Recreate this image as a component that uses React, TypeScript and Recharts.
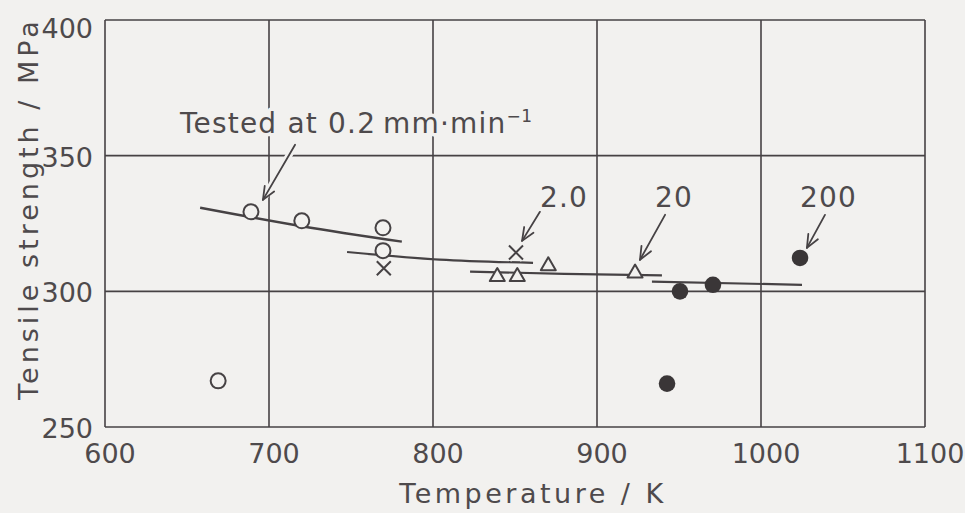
import React from "react";
import {
  ComposedChart,
  XAxis,
  YAxis,
  CartesianGrid,
  Line,
  Scatter,
  ReferenceLine,
  ReferenceDot,
} from "recharts";

const INK = "#464244";
const TEXT = "#4e4a4c";
const PAPER = "#f2f1ef";
const FONT = "'DejaVu Sans', sans-serif";

const xTicks = [600, 700, 800, 900, 1000, 1100];
const yTicks = [250, 300, 350, 400];

// measured points, temperature (K) vs tensile strength (MPa)
const rate02 = [
  { t: 669, s: 267 },
  { t: 689, s: 329.3 },
  { t: 720, s: 326 },
  { t: 769.5, s: 323.4 },
  { t: 769.5, s: 315 },
];
const rate2 = [
  { t: 770, s: 308.5 },
  { t: 850.6, s: 314.3 },
];
const rate20 = [
  { t: 839.2, s: 306 },
  { t: 851.4, s: 306 },
  { t: 870.3, s: 310 },
  { t: 923.2, s: 307.3 },
];
const rate200 = [
  { t: 942.7, s: 266 },
  { t: 950.6, s: 300 },
  { t: 970.7, s: 302.4 },
  { t: 1023.8, s: 312.3 },
];

// hand-drawn trend lines
const fit02 = [
  { t: 658, s: 330.8 },
  { t: 720, s: 324.0 },
  { t: 781, s: 318.3 },
];
const fit2 = [
  { t: 747.6, s: 314.5 },
  { t: 804, s: 311.7 },
  { t: 861, s: 310.5 },
];
const fit20 = [
  { t: 822.6, s: 307.3 },
  { t: 880, s: 306.4 },
  { t: 939.6, s: 305.9 },
];
const fit200 = [
  { t: 933.5, s: 303.6 },
  { t: 1025, s: 302.4 },
];

// rate labels with their arrows (data coords)
const notes = [
  { text: "Tested at 0.2\u2009mm·min", sup: "−1", at: [645.7, 358.4], from: [715.9, 354], to: [696.3, 333.7] },
  { text: "2.0", sup: "", at: [865.2, 331.1], from: [865.2, 329.3], to: [854.3, 318.6] },
  { text: "20", sup: "", at: [935.4, 331.1], from: [941.5, 328.2], to: [926.2, 311.6] },
  { text: "200", sup: "", at: [1023.8, 331.1], from: [1039, 328.2], to: [1028, 316] },
];

function OpenCircle(p: any) {
  return <circle cx={p.cx} cy={p.cy} r={7.5} fill={PAPER} stroke={INK} strokeWidth={2} />;
}

function Cross(p: any) {
  const d = 7;
  const { cx, cy } = p;
  const path = `M${cx - d},${cy - d}L${cx + d},${cy + d}M${cx + d},${cy - d}L${cx - d},${cy + d}`;
  return (
    <g>
      <path d={path} stroke={PAPER} strokeWidth={6} />
      <path d={path} stroke={INK} strokeWidth={2} />
    </g>
  );
}

function Triangle(p: any) {
  const { cx, cy } = p;
  const pts = `${cx},${cy - 7} ${cx - 7.5},${cy + 6} ${cx + 7.5},${cy + 6}`;
  return <polygon points={pts} fill={PAPER} stroke={INK} strokeWidth={2} strokeLinejoin="round" />;
}

function Dot(p: any) {
  return <circle cx={p.cx} cy={p.cy} r={8.3} fill="#3a3637" />;
}

function Arrow(p: any) {
  const { x1, y1, x2, y2 } = p;
  const ang = Math.atan2(y2 - y1, x2 - x1);
  const len = 14;
  const spread = 0.4;
  const hx1 = x2 - len * Math.cos(ang - spread);
  const hy1 = y2 - len * Math.sin(ang - spread);
  const hx2 = x2 - len * Math.cos(ang + spread);
  const hy2 = y2 - len * Math.sin(ang + spread);
  const head = `M${hx1},${hy1}L${x2},${y2}L${hx2},${hy2}`;
  return (
    <g fill="none" strokeLinecap="round" strokeLinejoin="round">
      <line x1={x1} y1={y1} x2={x2} y2={y2} stroke={PAPER} strokeWidth={7} />
      <line x1={x1} y1={y1} x2={x2} y2={y2} stroke={INK} strokeWidth={1.8} />
      <path d={head} stroke={INK} strokeWidth={1.8} />
    </g>
  );
}

function noteText(text: string, sup: string) {
  return (p: any) => (
    <text
      x={p.cx}
      y={p.cy}
      fontFamily={FONT}
      fontSize={28}
      letterSpacing={1.2}
      fill={TEXT}
      stroke={PAPER}
      strokeWidth={7}
      strokeLinejoin="round"
      paintOrder="stroke"
    >
      {text}
      {sup ? (
        <tspan dy={-11} fontSize={17} letterSpacing={0.5}>
          {sup}
        </tspan>
      ) : null}
    </text>
  );
}

function XTick(p: any) {
  return (
    <text x={p.x + 5} y={p.y + 36} textAnchor="middle" fontFamily={FONT} fontSize={27} fill={TEXT}>
      {p.payload.value}
    </text>
  );
}

function YTick(p: any) {
  const dy = p.payload.value === 400 ? 18 : 11;
  return (
    <text x={p.x} y={p.y + dy} textAnchor="end" fontFamily={FONT} fontSize={27} fill={TEXT}>
      {p.payload.value}
    </text>
  );
}

function XTitle(p: any) {
  const vb = p.viewBox;
  return (
    <text
      x={vb.x + vb.width / 2 + 18}
      y={vb.y + 76}
      textAnchor="middle"
      fontFamily={FONT}
      fontSize={27}
      letterSpacing={3.5}
      fill={TEXT}
    >
      Temperature / K
    </text>
  );
}

function YTitle(p: any) {
  const vb = p.viewBox;
  const cx = 38;
  const cy = vb.y + vb.height / 2 - 15;
  return (
    <text
      x={cx}
      y={cy}
      transform={`rotate(-90 ${cx} ${cy})`}
      textAnchor="middle"
      fontFamily={FONT}
      fontSize={27}
      letterSpacing={4}
      fill={TEXT}
    >
      Tensile strength / MPa
    </text>
  );
}

export default function App() {
  return (
    <div style={{ position: "absolute", left: 0, top: 0, width: 965, height: 513, background: PAPER }}>
      <ComposedChart width={965} height={513} margin={{ top: 20, right: 40, left: 0, bottom: 0 }}>
        <CartesianGrid stroke={INK} strokeWidth={1.6} />
        <XAxis
          type="number"
          dataKey="t"
          domain={[600, 1100]}
          ticks={xTicks}
          interval={0}
          height={86}
          axisLine={false}
          tickLine={false}
          tickSize={0}
          tickMargin={0}
          tick={<XTick />}
          label={XTitle}
        />
        <YAxis
          type="number"
          dataKey="s"
          domain={[250, 400]}
          ticks={yTicks}
          interval={0}
          width={105}
          axisLine={false}
          tickLine={false}
          tickSize={0}
          tickMargin={12}
          tick={<YTick />}
          label={YTitle}
        />
        {notes.map((n, i) => (
          <ReferenceLine
            key={`arrow-${i}`}
            segment={[
              { x: n.from[0], y: n.from[1] },
              { x: n.to[0], y: n.to[1] },
            ]}
            shape={Arrow}
          />
        ))}
        {notes.map((n, i) => (
          <ReferenceDot key={`note-${i}`} x={n.at[0]} y={n.at[1]} r={0} shape={noteText(n.text, n.sup)} />
        ))}
        <Line data={fit02} dataKey="s" type="monotone" stroke={INK} strokeWidth={2.4} dot={false} activeDot={false} isAnimationActive={false} />
        <Line data={fit2} dataKey="s" type="monotone" stroke={INK} strokeWidth={2.2} dot={false} activeDot={false} isAnimationActive={false} />
        <Line data={fit20} dataKey="s" type="monotone" stroke={INK} strokeWidth={2.2} dot={false} activeDot={false} isAnimationActive={false} />
        <Line data={fit200} dataKey="s" type="monotone" stroke={INK} strokeWidth={2.2} dot={false} activeDot={false} isAnimationActive={false} />
        <Scatter data={rate02} dataKey="s" shape={OpenCircle} isAnimationActive={false} />
        <Scatter data={rate2} dataKey="s" shape={Cross} isAnimationActive={false} />
        <Scatter data={rate20} dataKey="s" shape={Triangle} isAnimationActive={false} />
        <Scatter data={rate200} dataKey="s" shape={Dot} isAnimationActive={false} />
      </ComposedChart>
    </div>
  );
}
